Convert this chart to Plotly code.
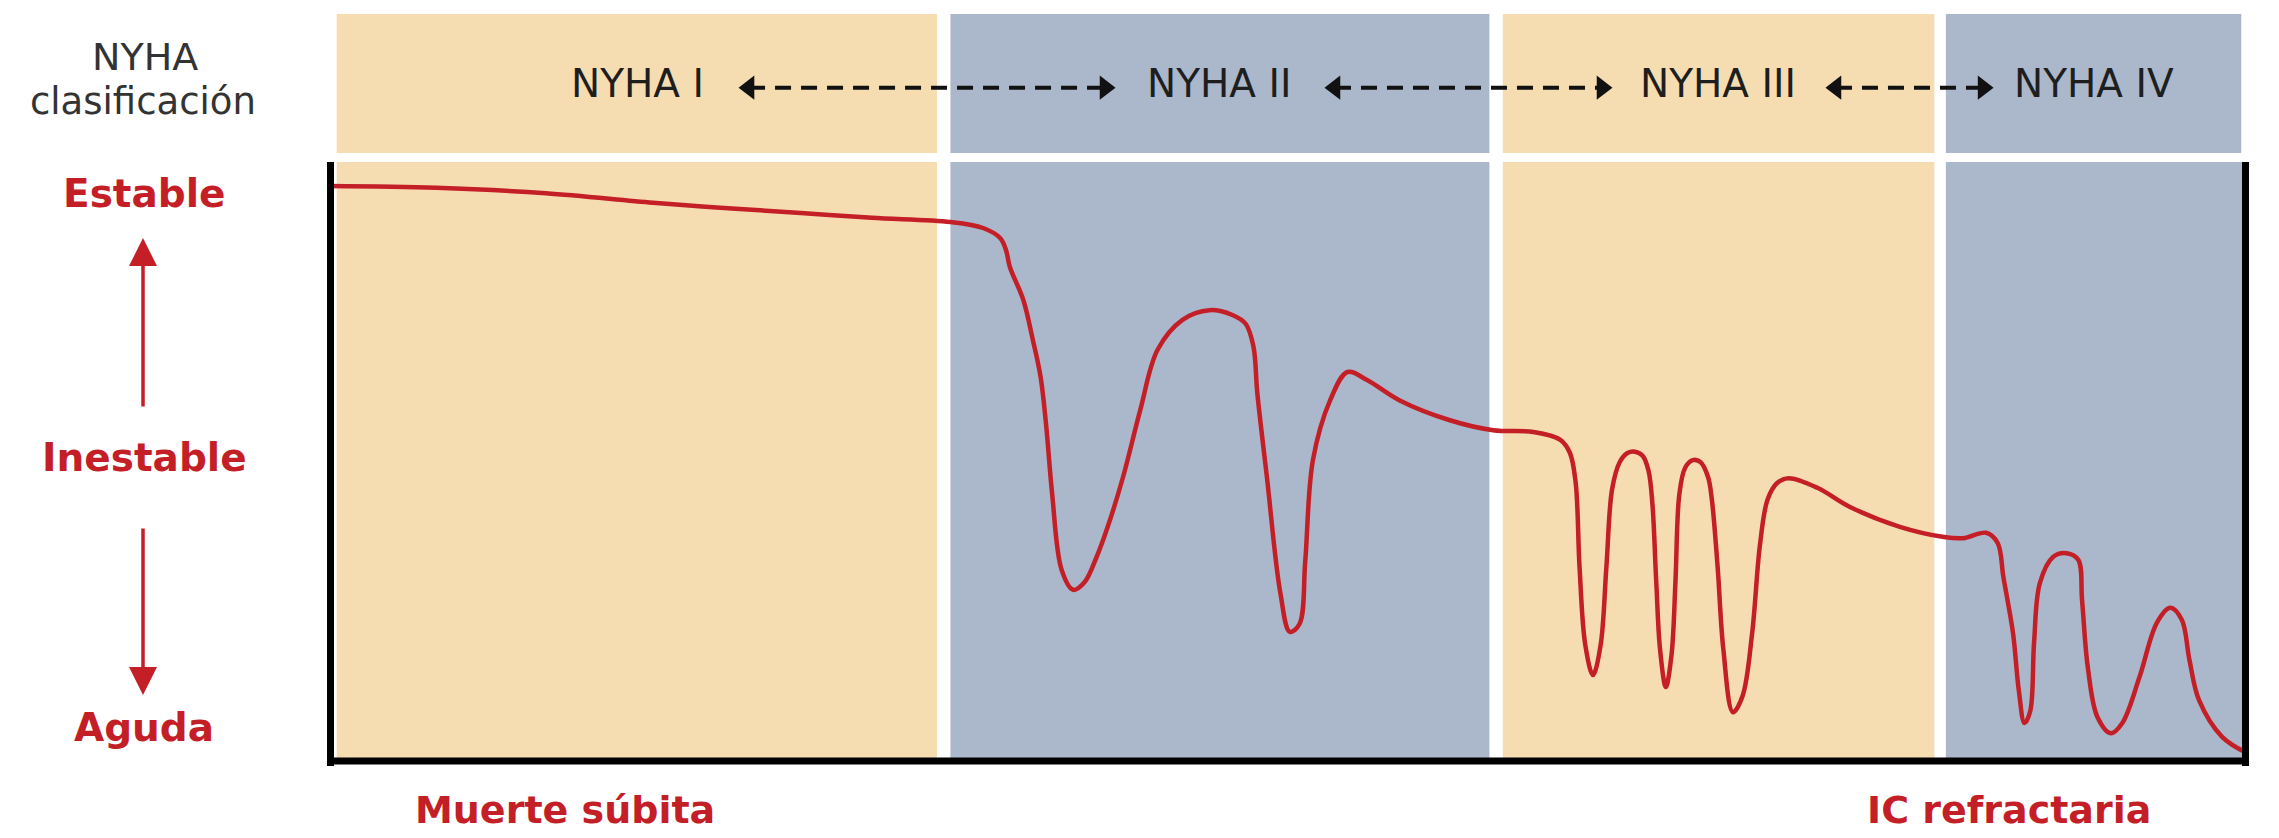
import plotly.graph_objects as go

W, H = 2279, 838

# ---- Data ----
# Disease course: time (0-100, left to right) vs clinical stability (0 = aguda, 100 = estable)
time = [0.0, 5.6, 11.3, 16.9, 20.8, 24.6, 28.3, 32.4, 34.1, 35.0, 35.3, 35.5, 36.2, 36.7,
        37.1, 37.4, 37.7, 38.2, 38.8, 39.4, 40.0, 40.6, 41.4, 42.3, 43.2, 44.5, 45.9, 47.1, 47.8,
        48.2, 48.4, 48.9, 49.6, 50.1, 50.6, 50.9, 51.3, 52.2, 53.1, 54.1, 55.8, 58.4, 60.7,
        62.8, 64.2, 64.7, 65.0, 65.2, 65.5, 65.9, 66.3, 66.6, 66.9, 67.3, 67.7, 68.1, 68.5, 68.8, 69.0,
        69.2, 69.4, 69.7, 70.0, 70.2, 70.4, 70.7, 71.1, 71.5, 71.9, 72.1, 72.4, 72.7, 73.2, 73.7,
        74.2, 74.6, 75.0, 75.5, 76.1, 77.6, 79.3, 81.9, 84.2, 85.2, 86.4, 87.0, 87.3, 87.8,
        88.1, 88.4, 88.7, 88.9, 89.2, 89.9, 90.6, 91.2, 91.4, 91.7, 92.2, 92.9, 93.5, 94.4,
        95.3, 96.0, 96.6, 97.0, 97.5, 98.7, 100.0]
stability = [96.0, 95.7, 94.8, 93.2, 92.3, 91.5, 90.7, 90.0, 89.0, 87.3, 85.3, 82.5, 77.0, 70.3,
             64.2, 55.8, 44.8, 32.0, 28.7, 30.0, 34.0, 39.2, 47.5, 58.7, 68.7, 73.7, 75.3, 74.5, 73.0,
             69.2, 61.5, 47.5, 28.2, 21.7, 23.0, 33.5, 50.3, 60.3, 65.0, 63.7, 60.3, 57.0, 55.3,
             55.0, 53.7, 51.5, 46.5, 32.5, 19.5, 14.5, 19.5, 32.5, 45.5, 50.0, 51.5, 51.7, 51.0, 48.5, 43.0,
             30.0, 18.7, 12.5, 18.0, 30.0, 44.5, 49.0, 50.3, 50.0, 47.5, 43.7, 32.5, 18.7, 8.3, 11.0,
             21.5, 36.0, 43.7, 46.5, 47.3, 45.7, 42.5, 39.2, 37.5, 37.3, 38.2, 36.5, 30.8, 21.5,
             12.0, 6.5, 8.5, 20.0, 29.8, 34.2, 34.8, 33.7, 27.0, 15.8, 7.5, 4.8, 6.5, 14.2,
             23.2, 25.7, 23.7, 17.0, 10.3, 4.2, 1.5]

stage_names = ["NYHA I", "NYHA II", "NYHA III", "NYHA IV"]
stage_start = [0.4, 32.4, 61.2, 84.3]
stage_end = [31.7, 60.5, 83.7, 100.0]
stage_label_x = [16.1, 46.4, 72.4, 92.0]

transition_start = [21.9, 52.45, 78.57]
transition_end = [40.46, 66.37, 86.24]

state_labels = ["Estable", "Inestable", "Aguda"]
state_levels = [94.8, 50.7, 5.7]

outcome_labels = ["Muerte súbita", "IC refractaria"]
outcome_x = [12.3, 87.6]

# ---- Styles ----
BEIGE = "#F5DDB1"
BLUE = "#ABB7CB"
RED = "#C41E26"
stage_colors = [BEIGE, BLUE, BEIGE, BLUE]
FONT = "DejaVu Sans"

fig = go.Figure()

# Curve
fig.add_trace(go.Scatter(
    x=time, y=stability, mode="lines",
    line=dict(color=RED, width=4.5, shape="spline", smoothing=1.0),
    xaxis="x", yaxis="y", showlegend=False, hoverinfo="skip"))

# Transition arrows in the NYHA band
for s, e in zip(transition_start, transition_end):
    fig.add_trace(go.Scatter(
        x=[s, e], y=[0.47, 0.47], mode="lines+markers",
        line=dict(color="#111111", width=4, dash="16px,10px"),
        marker=dict(symbol=["triangle-left", "triangle-right"], size=21, color="#111111",
                    line=dict(width=0)),
        xaxis="x", yaxis="y2", showlegend=False, hoverinfo="skip"))

shapes = []
for s, e, c in zip(stage_start, stage_end, stage_colors):
    shapes.append(dict(type="rect", xref="x", yref="y", x0=s, x1=e, y0=0, y1=100,
                       fillcolor=c, line=dict(width=0), layer="below"))
    shapes.append(dict(type="rect", xref="x", yref="y2", x0=s, x1=min(e, 99.7), y0=0, y1=1,
                       fillcolor=c, line=dict(width=0), layer="below"))

# Black frame (left, bottom, right)
xl, xr = 329 / W, 2247 / W
yb, yt = (H - 762) / H, (H - 162) / H
shapes += [
    dict(type="line", xref="paper", yref="paper", x0=xl + 1.5 / W, x1=xl + 1.5 / W,
         y0=yb - 4 / H, y1=yt, line=dict(color="black", width=7)),
    dict(type="line", xref="paper", yref="paper", x0=xl - 2 / W, x1=xr + 2 / W,
         y0=yb + 1 / H, y1=yb + 1 / H, line=dict(color="black", width=7)),
    dict(type="line", xref="paper", yref="paper", x0=xr - 1.5 / W, x1=xr - 1.5 / W,
         y0=yb - 4 / H, y1=yt, line=dict(color="black", width=7)),
]

annotations = []
for name, lx in zip(stage_names, stage_label_x):
    annotations.append(dict(x=lx, y=0.50, xref="x", yref="y2", text=name, showarrow=False,
                            font=dict(family=FONT, size=39, color="#1E1E1E"),
                            xanchor="center", yanchor="middle"))

annotations.append(dict(x=145 / W, y=(H - 57) / H, xref="paper", yref="paper", text="NYHA",
                        showarrow=False, font=dict(family=FONT, size=38, color="#333333"),
                        xanchor="center", yanchor="middle"))
annotations.append(dict(x=143 / W, y=(H - 101) / H, xref="paper", yref="paper", text="clasificación",
                        showarrow=False, font=dict(family=FONT, size=37, color="#333333"),
                        xanchor="center", yanchor="middle"))

for lab, lev in zip(state_labels, state_levels):
    annotations.append(dict(x=144 / W, y=lev, xref="paper", yref="y", text="<b>%s</b>" % lab,
                            showarrow=False, font=dict(family=FONT, size=39, color=RED),
                            xanchor="center", yanchor="middle"))

for lab, ox in zip(outcome_labels, outcome_x):
    annotations.append(dict(x=ox, y=(H - 810) / H, xref="x", yref="paper", text="<b>%s</b>" % lab,
                            showarrow=False, font=dict(family=FONT, size=38, color=RED),
                            xanchor="center", yanchor="middle"))

# Red vertical arrows
annotations.append(dict(x=143 / W, y=(H - 238) / H, xref="paper", yref="paper", text="",
                        showarrow=True, ax=0, ay=170, axref="pixel", ayref="pixel",
                        arrowhead=2, arrowsize=1.6, arrowwidth=3.5, arrowcolor=RED, standoff=0))
annotations.append(dict(x=143 / W, y=(H - 695) / H, xref="paper", yref="paper", text="",
                        showarrow=True, ax=0, ay=-168, axref="pixel", ayref="pixel",
                        arrowhead=2, arrowsize=1.6, arrowwidth=3.5, arrowcolor=RED, standoff=0))

fig.update_layout(
    width=W, height=H,
    margin=dict(l=0, r=0, t=0, b=0),
    paper_bgcolor="white", plot_bgcolor="white",
    xaxis=dict(domain=[xl, xr], range=[0, 100], visible=False, fixedrange=True),
    yaxis=dict(domain=[yb, yt], range=[0, 100], visible=False, fixedrange=True),
    yaxis2=dict(domain=[(H - 153) / H, (H - 14) / H], range=[0, 1], visible=False,
                anchor="x", fixedrange=True),
    shapes=shapes, annotations=annotations, showlegend=False,
)

fig.write_html("out.html", config={"displayModeBar": False},
               post_script="document.body.style.margin='0px';")
